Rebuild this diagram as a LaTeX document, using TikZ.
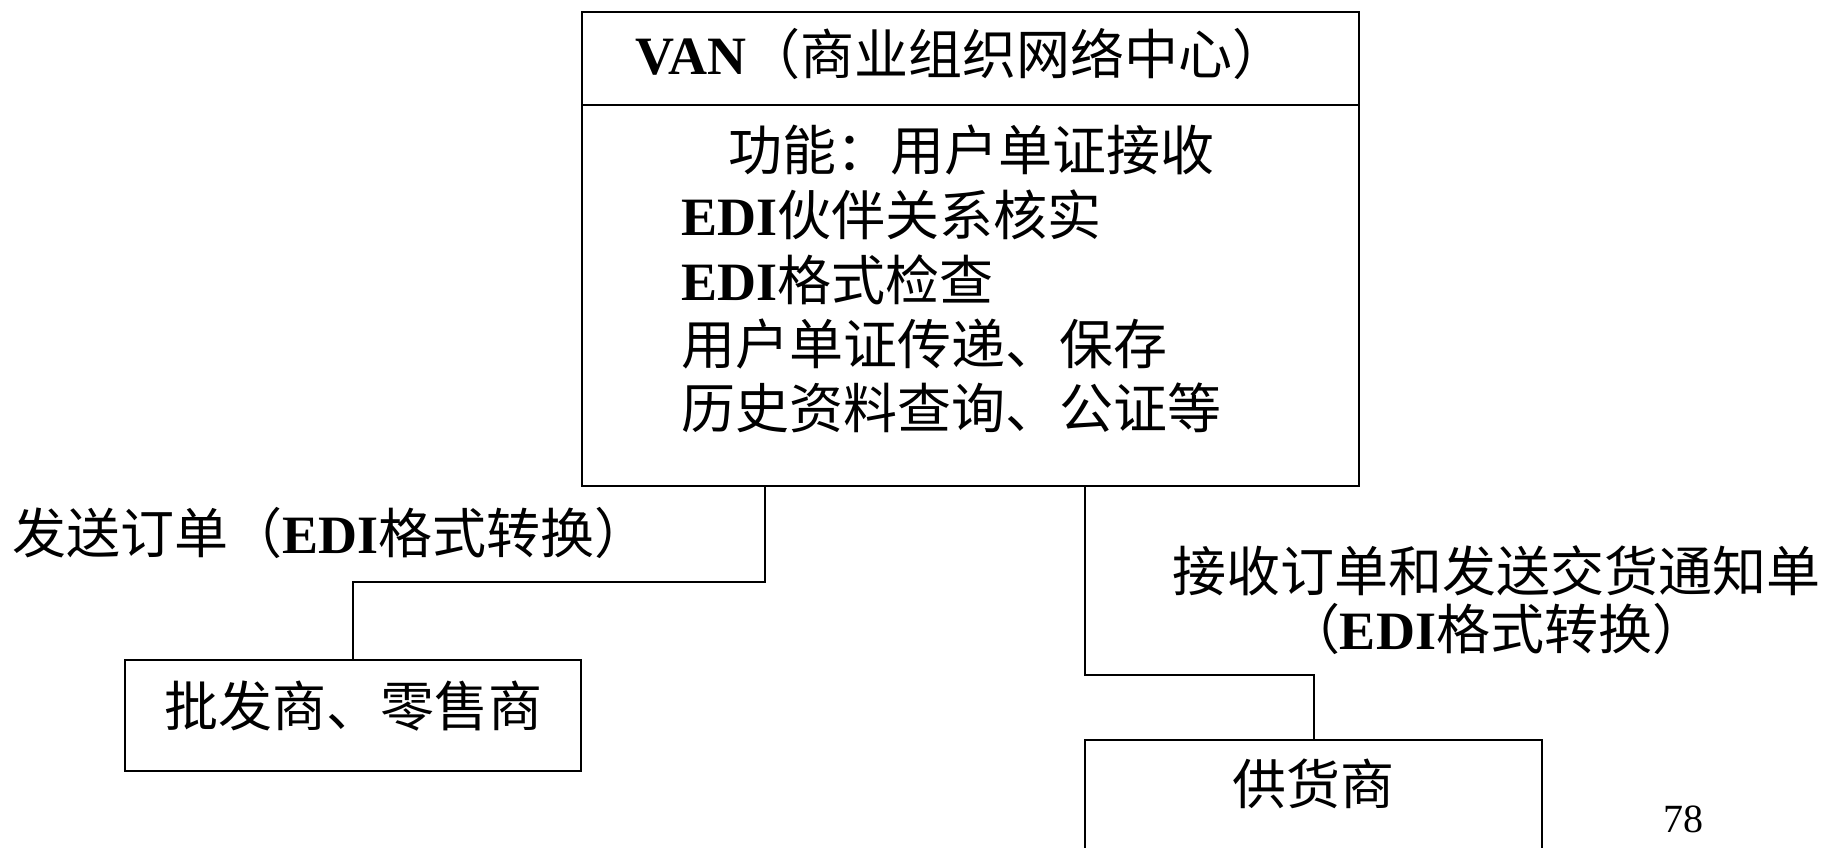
\documentclass[tikz,border=0pt]{standalone}
\usepackage{fontspec}
\setmainfont{Noto Sans CJK SC}
\newfontfamily\tnr{Liberation Serif}
\newcommand{\lat}[1]{{\tnr\bfseries #1}}
\usetikzlibrary{calc}

\tikzset{
  box/.style={draw, line width=2pt, inner sep=0pt},
  txt/.style={font=\fontsize{54}{64}\selectfont, inner sep=0pt},
  link/.style={line width=2pt},
}

\begin{document}
\begin{tikzpicture}[x=1pt, y=-1pt]
  \useasboundingbox (0,0) rectangle (1826,848);
  % VAN centre
  \node[box, minimum width=777pt, minimum height=474pt] (van) at (970.5,249) {};
  \draw[link] ($(van.north west)+(0,94)$) -- ($(van.north east)+(0,94)$);
  \node[txt, anchor=base] (title) at (961,75) {\lat{VAN}（商业组织网络中心）};
  \node[txt, anchor=base west] (f1) at (728,171) {功能：用户单证接收};
  \node[txt, anchor=base west] (f2) at (681,235) {\lat{EDI}伙伴关系核实};
  \node[txt, anchor=base west] (f3) at (681,300) {\lat{EDI}格式检查};
  \node[txt, anchor=base west] (f4) at (681,364) {用户单证传递、保存};
  \node[txt, anchor=base west] (f5) at (681,428) {历史资料查询、公证等};
  % trading partners
  \node[box, txt, minimum width=456pt, minimum height=111pt, text height=47pt, text depth=26pt] (retail) at (353,715.5) {批发商、零售商};
  \node[box, txt, minimum width=457pt, minimum height=141pt, text height=47pt, text depth=60pt, anchor=north] (supplier) at (1313.5,739) {供货商};
  % links
  \coordinate (sendout) at (765,486);
  \coordinate (recvout) at (1085,486);
  \draw[link] (sendout) -- ++(0,96) -| (retail.north);
  \draw[link] (recvout) -- ++(0,189) -| (supplier.north);
  \node[txt, anchor=base west] (sendlbl) at (12,553) {发送订单（\lat{EDI}格式转换）};
  \node[txt, anchor=base] (recvlbl) at (1496,591) {接收订单和发送交货通知单};
  \node[txt, anchor=base] (recvfmt) at (1496,649) {（\lat{EDI}格式转换）};
  \node[font=\tnr\fontsize{40}{48}\selectfont, inner sep=0pt, anchor=base] (page) at (1683,832) {78};
\end{tikzpicture}
\end{document}
